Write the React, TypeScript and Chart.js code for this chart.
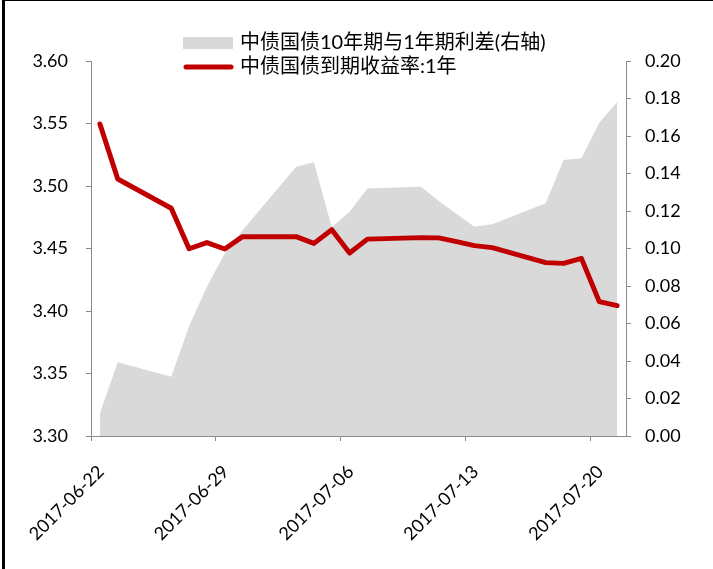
import React, { useEffect, useRef } from 'react';
import { Chart, registerables } from 'chart.js';

Chart.register(...registerables);

// ---- data ----
const dates = [
  '2017-06-22', '2017-06-23', '2017-06-26', '2017-06-27', '2017-06-28', '2017-06-29', '2017-06-30',
  '2017-07-03', '2017-07-04', '2017-07-05', '2017-07-06', '2017-07-07',
  '2017-07-10', '2017-07-11', '2017-07-12', '2017-07-13', '2017-07-14',
  '2017-07-17', '2017-07-18', '2017-07-19', '2017-07-20', '2017-07-21',
];
const yield1Y = [
  3.5496, 3.5056, 3.4822, 3.4498, 3.4547, 3.4496, 3.4595,
  3.4595, 3.4541, 3.465, 3.4464, 3.4575,
  3.4587, 3.4585, 3.4555, 3.4523, 3.4507,
  3.4387, 3.4381, 3.4421, 3.4075, 3.4043,
];
const spread10Y1Y = [
  0.0121, 0.0393, 0.0316, 0.0585, 0.0796, 0.0974, 0.1097,
  0.1436, 0.146, 0.1113, 0.1196, 0.132,
  0.133, 0.1253, 0.1184, 0.1116, 0.1129,
  0.1241, 0.1472, 0.1481, 0.1671, 0.178,
];
const xTickLabels = ['2017-06-22', '2017-06-29', '2017-07-06', '2017-07-13', '2017-07-20'];
const axisStart = '2017-06-22';
const axisDays = 30;
const seriesNames = ['中债国债10年期与1年期利差(右轴)', '中债国债到期收益率:1年'];

const dayOffset = (d: string) => Math.round((Date.parse(d) - Date.parse(axisStart)) / 86400000);

const AXIS_COLOR = '#898989';
const FONT_FAMILY = 'Lato, "Noto Sans CJK SC", sans-serif';

const legendPlugin = {
  id: 'customLegend',
  afterDraw(chart: any) {
    const ctx = chart.ctx as CanvasRenderingContext2D;
    const ds = chart.data.datasets;
    ctx.save();
    const x0 = 183;
    const w = 50;
    // area item
    ctx.fillStyle = ds[1].backgroundColor;
    ctx.fillRect(x0, 37, w, 12);
    // line item
    ctx.strokeStyle = ds[0].borderColor;
    ctx.lineWidth = 5;
    ctx.lineCap = 'round';
    ctx.beginPath();
    ctx.moveTo(x0 + 3, 67);
    ctx.lineTo(x0 + w - 2, 67);
    ctx.stroke();
    ctx.fillStyle = '#000';
    ctx.font = '20px ' + FONT_FAMILY;
    ctx.textBaseline = 'middle';
    ctx.textAlign = 'left';
    ctx.fillText(ds[1].label, 240, 43);
    ctx.fillText(ds[0].label, 240, 67);
    ctx.restore();
  },
};

export default function App() {
  const ref = useRef<HTMLCanvasElement>(null);

  useEffect(() => {
    const tickFont = { family: FONT_FAMILY, size: 18 };
    const chart = new Chart(ref.current as HTMLCanvasElement, {
      type: 'line',
      data: {
        datasets: [
          {
            label: seriesNames[1],
            data: dates.map((d, i) => ({ x: dayOffset(d) + 0.5, y: yield1Y[i] })),
            yAxisID: 'y',
            borderColor: '#C00000',
            backgroundColor: '#C00000',
            borderWidth: 5,
            borderJoinStyle: 'round',
            borderCapStyle: 'round',
            pointRadius: 0,
            tension: 0,
            fill: false,
            order: 0,
          },
          {
            label: seriesNames[0],
            data: dates.map((d, i) => ({ x: dayOffset(d) + 0.5, y: spread10Y1Y[i] })),
            yAxisID: 'y1',
            borderColor: '#D9D9D9',
            backgroundColor: '#D9D9D9',
            borderWidth: 0,
            pointRadius: 0,
            tension: 0,
            fill: 'origin',
            order: 1,
          },
        ],
      } as any,
      options: {
        responsive: false,
        animation: false,
        layout: { padding: { top: 61, left: 0, right: 0, bottom: 0 } },
        plugins: {
          legend: { display: false },
          tooltip: { enabled: false },
        },
        scales: {
          x: {
            type: 'linear',
            min: 0,
            max: axisDays,
            afterBuildTicks: (s: any) => {
              s.ticks = xTickLabels.map((l) => ({ value: dayOffset(l) }));
            },
            afterFit: (s: any) => {
              s.height = 133;
            },
            ticks: {
              autoSkip: false,
              minRotation: 45,
              maxRotation: 45,
              padding: 20,
              labelOffset: 10,
              color: '#000',
              font: tickFont,
              callback: (v: any) => xTickLabels.find((l) => dayOffset(l) === v) ?? '',
            },
            grid: { drawOnChartArea: false, drawTicks: true, tickLength: 5, color: AXIS_COLOR },
            border: { color: AXIS_COLOR, width: 1 },
          },
          y: {
            position: 'left',
            min: 3.3,
            max: 3.6,
            afterFit: (s: any) => {
              s.width = 91;
            },
            ticks: {
              stepSize: 0.05,
              padding: 18,
              color: '#000',
              font: tickFont,
              callback: (v: any) => Number(v).toFixed(2),
            },
            grid: { drawOnChartArea: false, drawTicks: true, tickLength: 5, color: AXIS_COLOR },
            border: { color: AXIS_COLOR, width: 1 },
          },
          y1: {
            position: 'right',
            min: 0,
            max: 0.2,
            afterFit: (s: any) => {
              s.width = 87;
            },
            ticks: {
              stepSize: 0.02,
              padding: 14,
              color: '#000',
              font: tickFont,
              callback: (v: any) => Number(v).toFixed(2),
            },
            grid: { drawOnChartArea: false, drawTicks: true, tickLength: 5, color: AXIS_COLOR },
            border: { color: AXIS_COLOR, width: 1 },
          },
        },
      } as any,
      plugins: [legendPlugin],
    });
    return () => chart.destroy();
  }, []);

  return (
    <div style={{ position: 'fixed', left: 0, top: 0, width: 713, height: 569, background: '#fff' }}>
      <canvas
        ref={ref}
        width={713}
        height={569}
        style={{ position: 'absolute', left: 0, top: 0, width: 713, height: 569 }}
      />
      <div
        style={{
          position: 'absolute',
          left: 2,
          top: 0,
          width: 711,
          height: 569,
          borderLeft: '3px solid #000',
          borderTop: '1px solid #000',
          boxSizing: 'border-box',
          pointerEvents: 'none',
        }}
      />
    </div>
  );
}
